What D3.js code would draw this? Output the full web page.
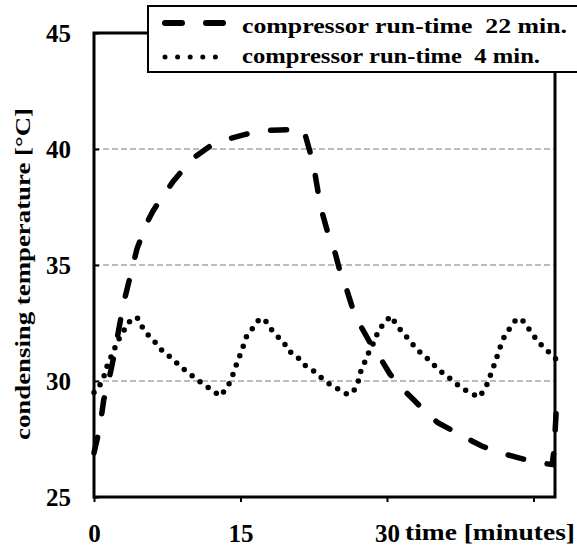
<!DOCTYPE html>
<html>
    <head>
        <meta charset="UTF-8" />
        <title>Condensing temperature</title>
        <script src="https://d3js.org/d3.v7.min.js"></script>
        <style>
            body { margin: 0; background: #fff; }
            text { font-family: "Times New Roman", Times, "Liberation Serif", serif; font-weight: bold; fill: #000; }
            .grid line { stroke: #a6a6a6; stroke-width: 1.3; stroke-dasharray: 6,3; }
        </style>
    </head>
    <body>
        <svg width="577" height="546"></svg>

        <script>
            // data (time in minutes, temperature in °C)
            const timeLong = [0, 0.6, 1.0, 1.4, 2.0, 2.7, 3.0, 3.7, 4.4, 5.4, 6.0, 7.0, 8.1, 9.2, 10.3, 11.8, 13.5, 15.2, 17.2, 19.0, 21.0, 21.5, 22.1, 22.6, 23.0, 23.4, 24.0, 24.7, 25.2, 25.9, 26.5, 27.4, 28.2, 29.3, 30.3, 31.5, 32.7, 34.1, 35.2, 37.0, 38.3, 39.7, 41.6, 43.4, 45.1, 46.9, 47.1, 47.3, 47.4];
            const tempLong = [26.9, 28.0, 29.2, 29.8, 31.0, 32.6, 33.3, 34.5, 35.7, 36.8, 37.3, 37.95, 38.6, 39.15, 39.65, 40.1, 40.4, 40.6, 40.8, 40.82, 40.85, 40.8, 39.9, 39.0, 38.0, 37.2, 36.3, 35.5, 34.7, 33.9, 33.1, 32.3, 31.7, 31.0, 30.3, 29.7, 29.2, 28.6, 28.2, 27.8, 27.5, 27.2, 26.9, 26.7, 26.5, 26.4, 27.0, 28.5, 29.5];

            const timeShort = [0, 0.9, 1.2, 1.5, 2.0, 2.6, 3.1, 3.7, 4.4, 4.9, 5.5, 6.3, 7.0, 7.9, 8.8, 9.5, 10.3, 11.2, 12.1, 12.9, 13.4, 14.0, 14.4, 14.8, 15.2, 15.6, 16.2, 16.8, 17.4, 18.0, 18.7, 19.4, 19.9, 20.7, 21.5, 22.3, 23.1, 24.0, 24.8, 25.8, 26.4, 27.0, 27.2, 27.7, 28.2, 28.7, 29.1, 29.7, 30.4, 31.0, 31.7, 32.3, 32.9, 33.7, 34.5, 35.1, 36.0, 36.8, 37.6, 38.5, 39.4, 40.1, 40.5, 40.9, 41.3, 41.7, 42.1, 42.8, 43.3, 43.9, 44.6, 45.2, 46.0, 46.7, 47.4];
            const tempShort = [29.5, 30.0, 30.5, 30.8, 31.3, 31.85, 32.2, 32.6, 32.75, 32.35, 32.0, 31.65, 31.3, 31.0, 30.65, 30.4, 30.15, 29.85, 29.6, 29.35, 29.6, 30.0, 30.5, 30.95, 31.4, 31.9, 32.25, 32.6, 32.7, 32.3, 31.95, 31.7, 31.3, 31.1, 30.7, 30.5, 30.2, 29.9, 29.7, 29.45, 29.45, 29.85, 30.3, 30.8, 31.3, 31.7, 32.15, 32.5, 32.8, 32.4, 32.05, 31.75, 31.45, 31.1, 30.85, 30.55, 30.25, 30.0, 29.7, 29.5, 29.3, 29.7, 30.15, 30.6, 31.1, 31.6, 32.0, 32.4, 32.7, 32.6, 32.2, 31.85, 31.45, 31.2, 30.9];

            const xTicks = [0, 15, 30, 45];
            const xTickLabels = ["0", "15", "30", ""];
            const yTicks = [25, 30, 35, 40, 45];
            const gridValues = [30, 35, 40];
            const legendLabels = ["compressor run-time\u00a0\u00a022 min.", "compressor run-time\u00a0\u00a04 min."];

            // plot area
            const plotLeft = 94, plotRight = 555, plotTop = 33, plotBottom = 497;

            const x = d3.scaleLinear().domain([0, 47.2]).range([plotLeft, plotRight]);
            const y = d3.scaleLinear().domain([25, 45]).range([plotBottom, plotTop]);

            const svg = d3.select("svg");

            // gridlines
            svg.append("g")
                .attr("class", "grid")
                .selectAll("line")
                .data(gridValues)
                .enter()
                .append("line")
                .attr("x1", plotLeft)
                .attr("x2", plotRight)
                .attr("y1", (d) => y(d))
                .attr("y2", (d) => y(d));

            // axes
            const yAxis = d3.axisLeft(y).tickValues(yTicks).tickSizeInner(-5).tickSizeOuter(0).tickPadding(23);
            const gy = svg.append("g").attr("transform", `translate(${plotLeft},0)`).call(yAxis);

            const xAxis = d3.axisBottom(x).tickValues(xTicks)
                .tickFormat((d, i) => xTickLabels[i])
                .tickSizeInner(5).tickSizeOuter(0).tickPadding(22);
            const gx = svg.append("g").attr("transform", `translate(0,${plotBottom})`).call(xAxis);

            [gx, gy].forEach((g) => {
                g.attr("font-family", null).attr("font-size", null);
                g.select(".domain").remove();
                g.selectAll(".tick line").attr("stroke", "#000").attr("stroke-width", 2);
                g.selectAll(".tick text")
                    .style("font-size", "25px")
                    .attr("fill", "#000");
            });

            // frame
            svg.append("rect")
                .attr("x", plotLeft)
                .attr("y", plotTop)
                .attr("width", plotRight - plotLeft)
                .attr("height", plotBottom - plotTop)
                .attr("fill", "none")
                .attr("stroke", "#000")
                .attr("stroke-width", 3);

            // series
            const line = d3.line().x((d) => x(d[0])).y((d) => y(d[1]));
            const longData = timeLong.map((t, i) => [t, tempLong[i]]);
            const shortData = timeShort.map((t, i) => [t, tempShort[i]]);

            svg.append("path")
                .datum(shortData)
                .attr("d", line)
                .attr("fill", "none")
                .attr("stroke", "#000")
                .attr("stroke-width", 5.5)
                .attr("stroke-linecap", "round")
                .attr("stroke-dasharray", "0,10");

            svg.append("path")
                .datum(longData)
                .attr("d", line)
                .attr("fill", "none")
                .attr("stroke", "#000")
                .attr("stroke-width", 5.5)
                .attr("stroke-linecap", "round")
                .attr("stroke-dasharray", "16,24");

            // axis titles
            svg.append("text")
                .attr("transform", "translate(30,274) rotate(-90)")
                .attr("text-anchor", "middle")
                .attr("textLength", 332)
                .attr("lengthAdjust", "spacingAndGlyphs")
                .style("font-size", "22px")
                .text("condensing temperature [°C]");

            svg.append("text")
                .attr("x", 405)
                .attr("y", 540)
                .attr("textLength", 170)
                .attr("lengthAdjust", "spacingAndGlyphs")
                .style("font-size", "24px")
                .text("time [minutes]");

            // legend
            const legend = svg.append("g");
            legend.append("rect")
                .attr("x", 148)
                .attr("y", 6)
                .attr("width", 440)
                .attr("height", 66)
                .attr("fill", "#fff")
                .attr("stroke", "#000")
                .attr("stroke-width", 2);

            legend.append("line")
                .attr("x1", 165).attr("x2", 227)
                .attr("y1", 23).attr("y2", 23)
                .attr("stroke", "#000")
                .attr("stroke-width", 6)
                .attr("stroke-linecap", "round")
                .attr("stroke-dasharray", "17,24");

            legend.append("line")
                .attr("x1", 165).attr("x2", 228)
                .attr("y1", 57).attr("y2", 57)
                .attr("stroke", "#000")
                .attr("stroke-width", 5)
                .attr("stroke-linecap", "round")
                .attr("stroke-dasharray", "0,12.6");

            legend.selectAll("text.lab")
                .data(legendLabels)
                .enter()
                .append("text")
                .attr("class", "lab")
                .attr("x", 242)
                .attr("y", (d, i) => (i === 0 ? 33 : 63))
                .attr("textLength", (d, i) => (i === 0 ? 325 : 298))
                .attr("lengthAdjust", "spacingAndGlyphs")
                .style("font-size", "21px")
                .text((d) => d);
        </script>
    </body>
</html>
